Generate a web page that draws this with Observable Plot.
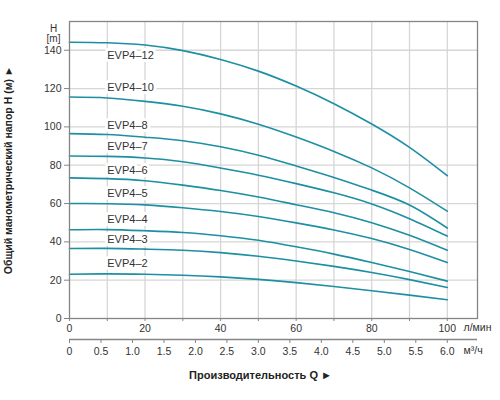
<!DOCTYPE html>
<html><head><meta charset="utf-8">
<script src="https://cdn.jsdelivr.net/npm/d3@7"></script>
<script src="https://cdn.jsdelivr.net/npm/@observablehq/plot@0.6"></script>
<style>body{margin:0;background:#fff;}</style>
</head><body><div id="chart"></div>
<script>
// Flow points (L/min)
const flow = [0,10,20,30,40,50,60,70,80,90,100];
// Head (m) per model
const evp4_12 = [144.2,143.9,142.7,139.8,135.2,129.1,121.3,112.1,101.5,89.3,74.5];
const evp4_10 = [115.6,115.1,113.3,110.8,106.8,101.4,94.7,87.2,78.6,68.2,56];
const evp4_8  = [96.5,96,94.6,92.8,89.6,85.2,79.6,73.6,67,59.2,47.2];
const evp4_7  = [84.8,84.6,83.8,81.8,78.5,74.8,70.4,65.6,59.8,52.1,43];
const evp4_6  = [73.4,73,71.9,69.6,66.8,63.4,59.4,55.2,50,43.4,35.6];
const evp4_5  = [60,59.9,59.3,57.8,55.8,53.2,49.9,46.2,41.7,36,29.2];
const evp4_4  = [46.3,46.4,45.8,44.9,43.2,40.8,37.4,33.6,29.2,24.5,19.5];
const evp4_3  = [36.5,36.6,36.2,35.6,34.4,32.5,30,27.2,24,20.3,16.2];
const evp4_2  = [23.1,23.3,23.1,22.6,21.7,20.4,18.7,16.7,14.5,12.2,9.8];

const models = ["EVP4–12","EVP4–10","EVP4–8","EVP4–7","EVP4–6","EVP4–5","EVP4–4","EVP4–3","EVP4–2"];
const series = [evp4_12,evp4_10,evp4_8,evp4_7,evp4_6,evp4_5,evp4_4,evp4_3,evp4_2];
// Label anchor positions (data units)
const labelFlow = 10;
const labelHead = [137.4,120.8,101,89.9,77.4,65,51.7,41.1,28.6];

// Ticks
const yTicks = [0,20,40,60,80,100,120,140];
const xTicks = [0,10,20,30,40,50,60,70,80,90,100];
const m3hTicks = [0,0.5,1.0,1.5,2.0,2.5,3.0,3.5,4.0,4.5,5.0,5.5,6.0];

const yTitle = "Общий манометрический напор H (м) ►";
const xTitle = "Производительность Q ►";
const unitFlowL = "л/мин";
const unitFlowM = "м³/ч";

const data = [];
models.forEach((m, i) => flow.forEach((q, j) => data.push({model: m, q, h: series[i][j]})));
const labels = models.map((m, i) => ({model: m, q: labelFlow, h: labelHead[i]}));

const teal = "#1d8fa3";
const gridC = "#d6d6d6";
const frameC = "#858585";
const ink = "#333";

const chart = Plot.plot({
  width: 500, height: 400,
  marginLeft: 69, marginRight: 23, marginTop: 21, marginBottom: 82,
  style: {fontFamily: "'Liberation Sans', Arial, sans-serif", fontSize: "10.5px", color: ink, background: "#fff"},
  x: {domain: [0, 108], axis: null, label: null},
  y: {domain: [0, 155], axis: null, label: null},
  marks: [
    Plot.ruleX(xTicks.filter(d => d > 0), {stroke: gridC, strokeWidth: 1.3}),
    Plot.ruleY(yTicks.filter(d => d > 0), {stroke: gridC, strokeWidth: 1.3}),
    Plot.text(labels, {x: "q", y: "h", text: "model", textAnchor: "start", fill: ink, stroke: "white", strokeWidth: 6, fontSize: 11}),
    Plot.line(data, {x: "q", y: "h", z: "model", stroke: teal, strokeWidth: 1.6, curve: "natural"}),
    Plot.frame({stroke: frameC, strokeWidth: 1.3}),
    Plot.axisY({ticks: yTicks, label: null, tickSize: 5, tickPadding: 3, stroke: frameC, fill: ink, fontSize: 10.5}),
    Plot.axisX({ticks: xTicks, label: null, tickFormat: d => d % 20 === 0 ? String(d) : "", tickSize: 3, tickPadding: 3, stroke: frameC, fill: ink, fontSize: 10.5}),
    Plot.ruleY([0], {dy: 21, stroke: frameC, strokeWidth: 1.3}),
    Plot.axisX({ticks: m3hTicks.map(v => v * 1000 / 60), label: null, tickFormat: d => { const v = d * 60 / 1000; return v === 0 ? "0" : v.toFixed(1); }, dy: 21, tickSize: 4, tickPadding: 4, stroke: frameC, fill: ink, fontSize: 10.5}),
    Plot.text([unitFlowL], {frameAnchor: "bottom-right", text: d => d, dx: -14, dy: 12, textAnchor: "start", fill: ink, fontSize: 10.5}),
    Plot.text([unitFlowM], {frameAnchor: "bottom-right", text: d => d, dx: -14, dy: 35, textAnchor: "start", fill: ink, fontSize: 10.5}),
    Plot.text(["H"], {frameAnchor: "top-left", text: d => d, dx: -16, dy: 3, textAnchor: "middle", fill: ink, fontSize: 10}),
    Plot.text(["[m]"], {frameAnchor: "top-left", text: d => d, dx: -16, dy: 13, textAnchor: "middle", fill: ink, fontSize: 10}),
    Plot.text([yTitle], {frameAnchor: "left", text: d => d, rotate: -90, dx: -61, dy: 0, textAnchor: "middle", fontWeight: "bold", fill: "#222", fontSize: 10.5}),
    Plot.text([xTitle], {frameAnchor: "bottom", text: d => d, dx: -13, dy: 60, textAnchor: "middle", fontWeight: "bold", fill: "#222", fontSize: 11})
  ]
});
document.getElementById("chart").append(chart);
</script>
</body></html>
